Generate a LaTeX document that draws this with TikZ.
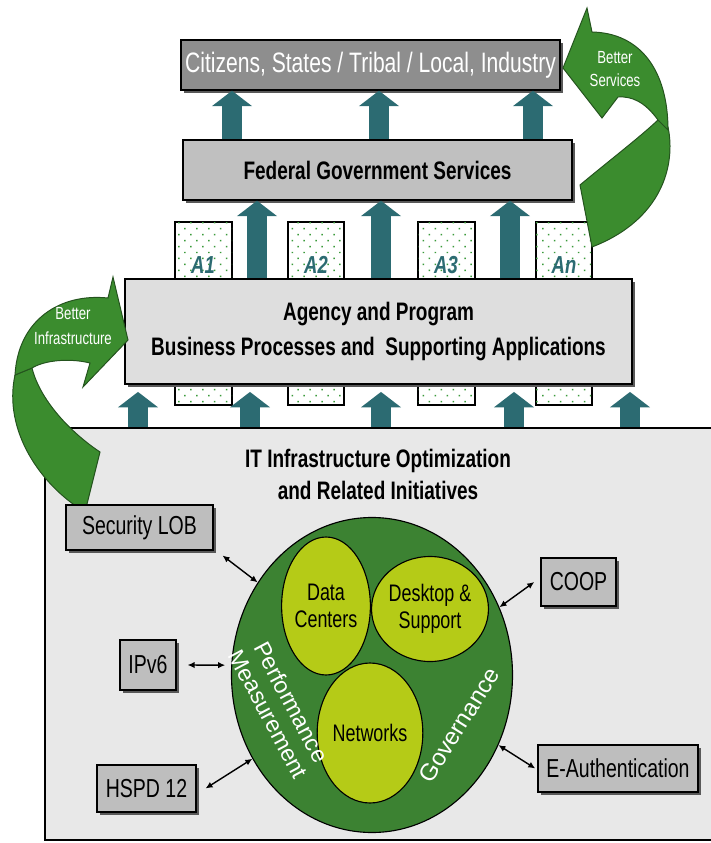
\documentclass[tikz,border=0pt]{standalone}
\usepackage{fontspec}
\setmainfont[FakeStretch=0.75]{Liberation Sans}
\newfontfamily\widefont{Liberation Sans}
\usetikzlibrary{arrows.meta,shapes.geometric,shadows,fit,patterns.meta}

\definecolor{flowteal}{HTML}{2C6B72}
\definecolor{arrowgreen}{HTML}{3B8C2E}
\definecolor{arrowedge}{HTML}{24531E}
\definecolor{circlegreen}{HTML}{3C8232}
\definecolor{lobeyellow}{HTML}{B5CB17}
\definecolor{darkgraybox}{HTML}{8E8E8E}
\definecolor{midgraybox}{HTML}{C0C0C0}
\definecolor{lightgraybox}{HTML}{DEDEDE}
\definecolor{itgray}{HTML}{E8E8E8}
\definecolor{smallgray}{HTML}{BEBEBE}
\definecolor{dotgreen}{HTML}{3A9A3A}

\begin{document}
\begin{tikzpicture}[x=0.25mm,y=-0.25mm,
	box/.style={draw=black,line width=1pt,inner sep=0pt,align=center},
	shade box/.style={box,drop shadow={shadow xshift=0.7mm,shadow yshift=-0.7mm,fill=black!65,opacity=1}},
	upflow/.style={draw=flowteal,line width=14pt,-{Triangle[width=28pt,length=11pt]}},
	appbox/.style={box,line width=0.8pt,fill=white,postaction={pattern={Dots[distance=6pt,radius=0.75pt,angle=45]},pattern color=dotgreen}},
	applabel/.style={text=flowteal,font=\fontsize{17.5}{19}\selectfont\bfseries\itshape},
	smallbox/.style={shade box,fill=smallgray,font=\fontsize{18.5}{20}\selectfont},
	lobe/.style={ellipse,draw=black,line width=0.8pt,fill=lobeyellow,inner sep=0pt,align=center,font=\fontsize{17}{19}\selectfont},
	bigarrow/.style={fill=arrowgreen,draw=arrowedge,line width=0.7pt},
	biarrow/.style={{Latex[length=5pt,width=4.5pt]}-{Latex[length=5pt,width=4.5pt]},line width=1pt}]
\useasboundingbox (0,0) rectangle (710,843);

% infrastructure box at the bottom
\node[box,fill=itgray,fit={(45,428) (716,840)}](itbox){};
\node[align=center,font=\fontsize{18}{22.7}\selectfont\bfseries](ittitle) at (378,474){IT Infrastructure Optimization\\and Related Initiatives};

% application boxes behind the agency box
\node[appbox,fit={(175,222) (232,405)}](appA1){};
\node[appbox,fit={(288,222) (344,405)}](appA2){};
\node[appbox,fit={(418,222) (475,405)}](appA3){};
\node[appbox,fit={(536,222) (592,405)}](appAn){};
\node[applabel](labA1) at (203,265){A1};
\node[applabel](labA2) at (316,265){A2};
\node[applabel](labA3) at (446,265){A3};
\node[applabel](labAn) at (564,265){An};

% service layers
\node[shade box,fill=lightgraybox,minimum width=126.75mm,minimum height=26.25mm,font=\fontsize{18}{25}\selectfont\bfseries](agency) at (378.5,331.5){Agency and Program\\Business Processes and \ Supporting Applications};
\node[shade box,fill=midgraybox,minimum width=97.25mm,minimum height=15mm,font=\fontsize{18}{20}\selectfont\bfseries](federal) at (377.5,170){Federal Government Services};
\node[shade box,fill=darkgraybox,minimum width=94.75mm,minimum height=12.5mm,text=white,font=\fontsize{20}{22}\selectfont](citizens) at (370.5,65){Citizens, States / Tribal / Local, Industry};

% flows upward
\draw[upflow,shorten >=1.8mm](138,0 |- itbox.north)--(138,0 |- agency.south);
\draw[upflow,shorten >=1.8mm](250,0 |- itbox.north)--(250,0 |- agency.south);
\draw[upflow,shorten >=1.8mm](381,0 |- itbox.north)--(381,0 |- agency.south);
\draw[upflow,shorten >=1.8mm](514,0 |- itbox.north)--(514,0 |- agency.south);
\draw[upflow,shorten >=1.8mm](630,0 |- itbox.north)--(630,0 |- agency.south);

\draw[upflow](257,0 |- agency.north)--(257,0 |- federal.south);
\draw[upflow](381,0 |- agency.north)--(381,0 |- federal.south);
\draw[upflow](510,0 |- agency.north)--(510,0 |- federal.south);

\draw[upflow](232,0 |- federal.north)--(232,0 |- citizens.south);
\draw[upflow](379,0 |- federal.north)--(379,0 |- citizens.south);
\draw[upflow](533,0 |- federal.north)--(533,0 |- citizens.south);

% better services arrow
\draw[bigarrow](580,185) .. controls (610,160) and (640,137) .. (658,120) -- (668,127) .. controls (676,165) and (662,220) .. (592,247) -- cycle;
\draw[bigarrow](563,68) -- (587,8) -- (592,32) .. controls (640,33) and (668,70) .. (668,130) -- (658,120) .. controls (645,102) and (632,96) .. (618,97) -- (602,118) -- cycle;
\node[text=white,align=center,font=\fontsize{12.5}{17}\selectfont](services) at (615,69){Better\\Services};

% better infrastructure arrow
\draw[bigarrow](32,368) .. controls (40,400) and (70,432) .. (100,452) -- (85,512) .. controls (40,485) and (3,430) .. (15,375) -- cycle;
\draw[bigarrow](128,340) -- (113,277) -- (108,298) .. controls (60,293) and (18,320) .. (15,375) -- (32,368) .. controls (45,360) and (70,358) .. (90,363) -- (83,387) -- cycle;
\node[text=white,align=center,font=\fontsize{12.5}{18}\selectfont](infra) at (73,326){Better\\Infrastructure};

% related initiatives
\node[smallbox,minimum width=36.75mm,minimum height=11.25mm](seclob) at (139.5,527.5){Security LOB};
\node[smallbox,minimum width=18.75mm,minimum height=12mm](coop) at (578.5,582){COOP};
\node[smallbox,minimum width=14mm,minimum height=12.5mm](ipvsix) at (148,665){IPv6};
\node[smallbox,minimum width=24.75mm,minimum height=11.75mm](hspd) at (146.5,788.5){HSPD 12};
\node[smallbox,minimum width=40mm,minimum height=11.75mm](eauth) at (618,768.5){E-Authentication};

% optimization core
\node[ellipse,draw=black,line width=0.8pt,fill=circlegreen,inner sep=0pt,minimum width=70.25mm,minimum height=78.75mm](core) at (372,675){};
\node[lobe,minimum width=21.5mm,minimum height=34.5mm](datacenters) at (326,606){Data\\Centers};
\node[lobe,minimum width=25.5mm,minimum height=26.25mm](desktop) at (430,609){Desktop \&\\Support};
\node[lobe,minimum width=21.75mm,minimum height=35mm](networks) at (370,733){Networks};
\node[rotate=-62,text=white,align=center,font=\widefont\fontsize{16.5}{18.5}\selectfont](perf) at (280,708){Performance\\Measurement};
\node[rotate=58,text=white,font=\widefont\fontsize{17}{19}\selectfont](gov) at (459,725){Governance};

\draw[biarrow]([xshift=2.2mm,yshift=-1.2mm]seclob.south east)--(core.141);
\draw[biarrow]([xshift=-1.5mm]coop.west)--(core.28);
\draw[biarrow]([xshift=2.7mm]ipvsix.east)--([xshift=-1.5mm]core.176);
\draw[biarrow]([xshift=2.2mm]hspd.east)--(core.215);
\draw[biarrow]([xshift=-0.5mm]eauth.west)--(core.331);
\end{tikzpicture}
\end{document}
